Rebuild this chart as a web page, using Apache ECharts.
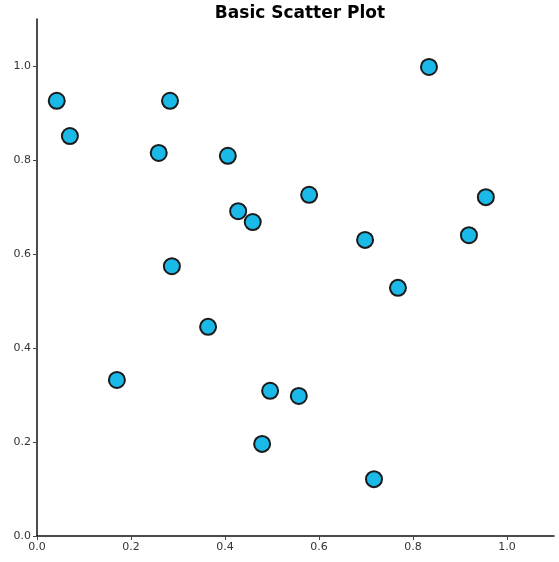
<!DOCTYPE html>
<html>
<head>
<meta charset="utf-8">
<script src="https://cdn.jsdelivr.net/npm/echarts@6/dist/echarts.min.js"></script>
<style>
  html, body { margin: 0; padding: 0; background: #fff; }
  #main { width: 559px; height: 562px; }
</style>
</head>
<body>
<div id="main"></div>
<script>
// point values
var xValues = [0.042, 0.070, 0.283, 0.259, 0.406, 0.428, 0.459, 0.579, 0.834, 0.955,
               0.919, 0.698, 0.768, 0.287, 0.364, 0.170, 0.496, 0.557, 0.479, 0.717];
var yValues = [0.926, 0.851, 0.926, 0.815, 0.809, 0.691, 0.668, 0.726, 0.998, 0.721,
               0.640, 0.630, 0.528, 0.574, 0.445, 0.332, 0.309, 0.298, 0.196, 0.121];
var tickValues = [0, 0.2, 0.4, 0.6, 0.8, 1.0];

var points = [];
for (var i = 0; i < xValues.length; i++) {
  points.push([xValues[i], yValues[i]]);
}

var font = "DejaVu Sans";

function makeAxis() {
  return {
    type: "value",
    min: 0,
    max: 1.1,
    interval: 0.2,
    axisLine: { show: true, lineStyle: { color: "#111", width: 1.5 } },
    axisTick: {
      show: true, length: 4, inside: false,
      customValues: tickValues,
      lineStyle: { color: "#444", width: 1 }
    },
    axisLabel: {
      customValues: tickValues,
      color: "#333",
      fontFamily: font,
      fontSize: 11,
      margin: 6,
      formatter: function (v) { return v.toFixed(1); }
    },
    splitLine: { show: false }
  };
}

var chart = echarts.init(document.getElementById("main"));
chart.setOption({
  backgroundColor: "#fff",
  animation: false,
  title: {
    text: "Basic Scatter Plot",
    left: 295,
    textAlign: "center",
    top: 0,
    textStyle: { fontFamily: font, fontWeight: "bold", fontSize: 17, color: "#000" }
  },
  grid: { left: 37, right: 5, top: 19, bottom: 26, containLabel: false },
  xAxis: makeAxis(),
  yAxis: makeAxis(),
  series: [
    {
      type: "scatter",
      data: points,
      symbolSize: 16,
      itemStyle: { color: "#1bb9e8", borderColor: "#1a1a1a", borderWidth: 2, opacity: 1 }
    }
  ]
});
</script>
</body>
</html>
